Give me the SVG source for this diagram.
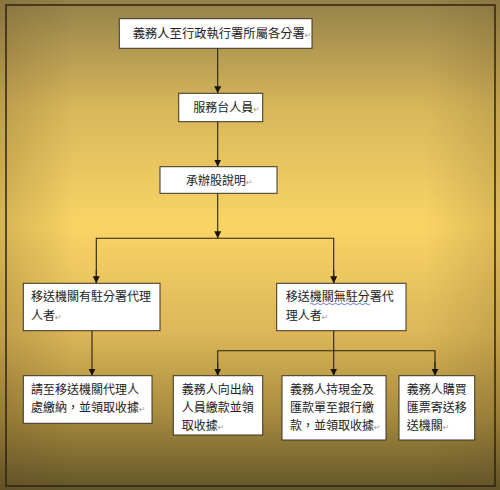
<svg xmlns="http://www.w3.org/2000/svg" width="500" height="490" viewBox="0 0 500 490">
<defs>
<linearGradient id="bg" x1="0" y1="0" x2="0" y2="1">
<stop offset="0" stop-color="#94814a"/>
<stop offset="0.22" stop-color="#d8b75b"/>
<stop offset="0.46" stop-color="#fad465"/>
<stop offset="0.68" stop-color="#dcb658"/>
<stop offset="0.85" stop-color="#a68a3e"/>
<stop offset="1" stop-color="#62552a"/>
</linearGradient>
<linearGradient id="side" x1="0" y1="0" x2="1" y2="0">
<stop offset="0" stop-color="#5a4418" stop-opacity="0.22"/>
<stop offset="0.15" stop-color="#5a4418" stop-opacity="0"/>
<stop offset="0.85" stop-color="#5a4418" stop-opacity="0"/>
<stop offset="1" stop-color="#5a4418" stop-opacity="0.18"/>
</linearGradient>
<marker id="arr" viewBox="0 0 8 8" refX="8" refY="4" markerWidth="7" markerHeight="7" markerUnits="userSpaceOnUse" orient="auto">
<path d="M0,0 L8,4 L0,8 Z" fill="#1a1408"/>
</marker>
<style>
.box{fill:#ffffff;stroke:#3a3326;stroke-width:1}
.t{font-family:"Noto Sans CJK TC","Noto Sans CJK SC",sans-serif;font-size:12px;fill:#222}
.ret{fill:#999;font-size:8px;font-family:"DejaVu Sans",sans-serif}
.ln{fill:none;stroke:#2a2210;stroke-width:1.1}
</style>
</defs>
<rect x="0" y="0" width="500" height="490" fill="url(#bg)"/>
<rect x="0" y="0" width="500" height="490" fill="url(#side)"/>
<rect x="6" y="5" width="489" height="481" fill="none" stroke="#2e2410" stroke-width="1.5"/>

<g id="connectors">
<line class="ln" x1="217.7" y1="48.3" x2="217.7" y2="93.3" marker-end="url(#arr)"/>
<line class="ln" x1="217.7" y1="121.7" x2="217.7" y2="166.7" marker-end="url(#arr)"/>
<line class="ln" x1="217.7" y1="193.3" x2="217.7" y2="238.3" marker-end="url(#arr)"/>
<polyline class="ln" points="96.3,283.3 96.3,238.3 333.7,238.3 333.7,283.3"/>
<line class="ln" x1="96.3" y1="270" x2="96.3" y2="283.3" marker-end="url(#arr)"/>
<line class="ln" x1="333.7" y1="270" x2="333.7" y2="283.3" marker-end="url(#arr)"/>
<line class="ln" x1="92" y1="330.7" x2="92" y2="375.7" marker-end="url(#arr)"/>
<line class="ln" x1="333.7" y1="330.7" x2="333.7" y2="375.7" marker-end="url(#arr)"/>
<polyline class="ln" points="217.7,375.7 217.7,350.7 435,350.7 435,375.7"/>
<line class="ln" x1="217.7" y1="362" x2="217.7" y2="375.7" marker-end="url(#arr)"/>
<line class="ln" x1="435" y1="362" x2="435" y2="375.7" marker-end="url(#arr)"/>
</g>

<g id="n1">
<rect class="box" x="119.3" y="18.7" width="192.7" height="29.6"/>
<text class="t" x="132.7" y="38" style="font-size:12.3px">義務人至行政執行署所屬各分署<tspan class="ret">↵</tspan></text>
</g>
<g id="n2">
<rect class="box" x="178.7" y="93.3" width="84" height="28.4"/>
<text class="t" x="193.3" y="112">服務台人員<tspan class="ret">↵</tspan></text>
</g>
<g id="n3">
<rect class="box" x="160" y="166.7" width="117" height="26.6"/>
<text class="t" x="186" y="184.5">承辦股說明<tspan class="ret">↵</tspan></text>
</g>
<g id="n4">
<rect class="box" x="23.3" y="283.3" width="136.7" height="47.4"/>
<text class="t" x="31" y="301">移送機關有駐分署代理</text>
<text class="t" x="31" y="319.5">人者<tspan class="ret">↵</tspan></text>
</g>
<g id="n5">
<rect class="box" x="276.7" y="283.3" width="129.3" height="47.4"/>
<text class="t" x="285.7" y="301">移送機關無駐分署代</text>
<path d="M310,304 q1.5,-1.5 3,0 t3,0 t3,0 t3,0 t3,0 t3,0 t3,0 t3,0 t3,0 t3,0 t3,0 t3,0 t3,0 t3,0 t3,0 t3,0 t3,0 t3,0 t3,0 t3,0" fill="none" stroke="#3a4ec8" stroke-width="0.8"/>
<text class="t" x="285.7" y="319.5">理人者<tspan class="ret">↵</tspan></text>
</g>
<g id="n6">
<rect class="box" x="23.3" y="375.7" width="128.7" height="47.6"/>
<text class="t" x="31" y="394">請至移送機關代理人</text>
<text class="t" x="31" y="412">處繳納，並領取收據<tspan class="ret">↵</tspan></text>
</g>
<g id="n7">
<rect class="box" x="173.3" y="375.7" width="89.4" height="59.3"/>
<text class="t" x="181.7" y="394">義務人向出納</text>
<text class="t" x="181.7" y="412">人員繳款並領</text>
<text class="t" x="181.7" y="429.5">取收據<tspan class="ret">↵</tspan></text>
</g>
<g id="n8">
<rect class="box" x="282" y="375.7" width="104" height="64.3"/>
<text class="t" x="290" y="394">義務人持現金及</text>
<text class="t" x="290" y="412">匯款單至銀行繳</text>
<text class="t" x="290" y="429.5">款，並領取收據<tspan class="ret">↵</tspan></text>
</g>
<g id="n9">
<rect class="box" x="399" y="375.7" width="75.7" height="64.3"/>
<text class="t" x="406.7" y="394">義務人購買</text>
<text class="t" x="406.7" y="412">匯票寄送移</text>
<text class="t" x="406.7" y="429.5">送機關<tspan class="ret">↵</tspan></text>
</g>
</svg>
